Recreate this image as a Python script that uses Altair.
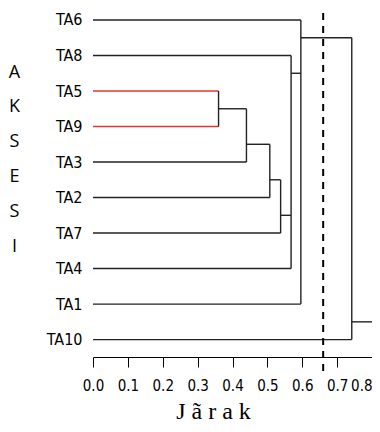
import json
import altair as alt
import pandas as pd

# ---- data ----
leaves = ["TA6", "TA8", "TA5", "TA9", "TA3", "TA2", "TA7", "TA4", "TA1", "TA10"]
merge_heights = [0.36, 0.44, 0.507, 0.538, 0.568, 0.596, 0.742]
merge_children = [["TA5", "TA9"], ["m0", "TA3"], ["m1", "TA2"], ["m2", "TA7"],
                  ["TA8", "m3", "TA4"], ["TA6", "m4", "TA1"], ["m5", "TA10"]]
merge_anchor = [2.5, 3.5, 4.5, 5.5, 1.5, 0.5, 8.5]
root_end = 0.8
highlight = ["TA5", "TA9"]
cut_height = 0.66
cut_span = [-0.2, 10.05]
x_ticks = [0.0, 0.1, 0.2, 0.3, 0.4, 0.5, 0.6, 0.7, 0.8]

NARROW = "Liberation Sans Narrow, DejaVu Sans Condensed, Arial Narrow, Liberation Sans, sans-serif"


def node_pos(name):
    if name in leaves:
        return 0.0, float(leaves.index(name))
    k = int(name[1:])
    return merge_heights[k], merge_anchor[k]


rows = []
for k, (h, ch) in enumerate(zip(merge_heights, merge_children)):
    ys = []
    for c in ch:
        x0, y0 = node_pos(c)
        rows.append(dict(x=x0, x2=h, y=y0, y2=y0,
                         c="red" if c in highlight else "black"))
        ys.append(y0)
    rows.append(dict(x=h, x2=h, y=min(ys), y2=max(ys), c="black"))
rh, ra = merge_heights[-1], merge_anchor[-1]
rows.append(dict(x=rh, x2=root_end, y=ra, y2=ra, c="black"))
seg = pd.DataFrame(rows)

cut = pd.DataFrame([dict(x=cut_height, y=cut_span[0], y2=cut_span[1])])

label_expr = json.dumps(leaves) + "[datum.value]"

xscale = alt.Scale(domain=[0, 0.8], nice=False, zero=False)
yscale = alt.Scale(domain=[-0.225, 9.49], reverse=True, nice=False, zero=False)

x_axis = alt.Axis(values=x_ticks, format=".1f", title="J ã r a k",
                  titleFont="Liberation Serif", titleFontSize=24,
                  titleFontWeight="normal", titleColor="black",
                  titleX=120, titleY=61, titleAlign="center",
                  titleBaseline="alphabetic",
                  labelFont=NARROW, labelFontSize=15,
                  labelColor="black", labelPadding=11, tickSize=10,
                  tickColor="black", domainColor="black",
                  labelFlush=False, labelOverlap=False,
                  labelAlign=alt.condition("datum.value >= 0.79",
                                           alt.value("right"), alt.value("center")))

y_axis = alt.Axis(values=list(range(len(leaves))), labelExpr=label_expr,
                  domain=False, ticks=False, tickSize=0, labelPadding=11,
                  labelFont=NARROW, labelFontSize=16,
                  labelColor="black", labelOverlap=False,
                  title=list("AKSESI"), titleAngle=0,
                  titleAlign="center", titleBaseline="top",
                  titleX=-79, titleY=51, titleFont="Open Sans",
                  titleFontSize=18, titleFontWeight="normal",
                  titleLineHeight=34.8, titleColor="black")

lines = alt.Chart(seg).mark_rule(strokeWidth=1.4).encode(
    x=alt.X("x:Q", scale=xscale, axis=x_axis),
    x2="x2:Q",
    y=alt.Y("y:Q", scale=yscale, axis=y_axis),
    y2="y2:Q",
    color=alt.Color("c:N", scale=alt.Scale(domain=["black", "red"],
                                           range=["#222222", "#e3342f"]),
                    legend=None),
)

cutline = alt.Chart(cut).mark_rule(strokeWidth=2, strokeDash=[7, 6],
                                   color="black").encode(
    x=alt.X("x:Q", scale=xscale, axis=x_axis),
    y=alt.Y("y:Q", scale=yscale, axis=y_axis),
    y2="y2:Q",
)

chart = alt.layer(lines, cutline).properties(
    width=279, height=345,
    autosize=alt.AutoSizeParams(type="none"),
    padding={"left": 85, "top": 4, "right": 0, "bottom": 67},
).configure_view(stroke=None).configure_axis(grid=False)

chart.save("out.html", embed_options={"renderer": "svg", "actions": False})
